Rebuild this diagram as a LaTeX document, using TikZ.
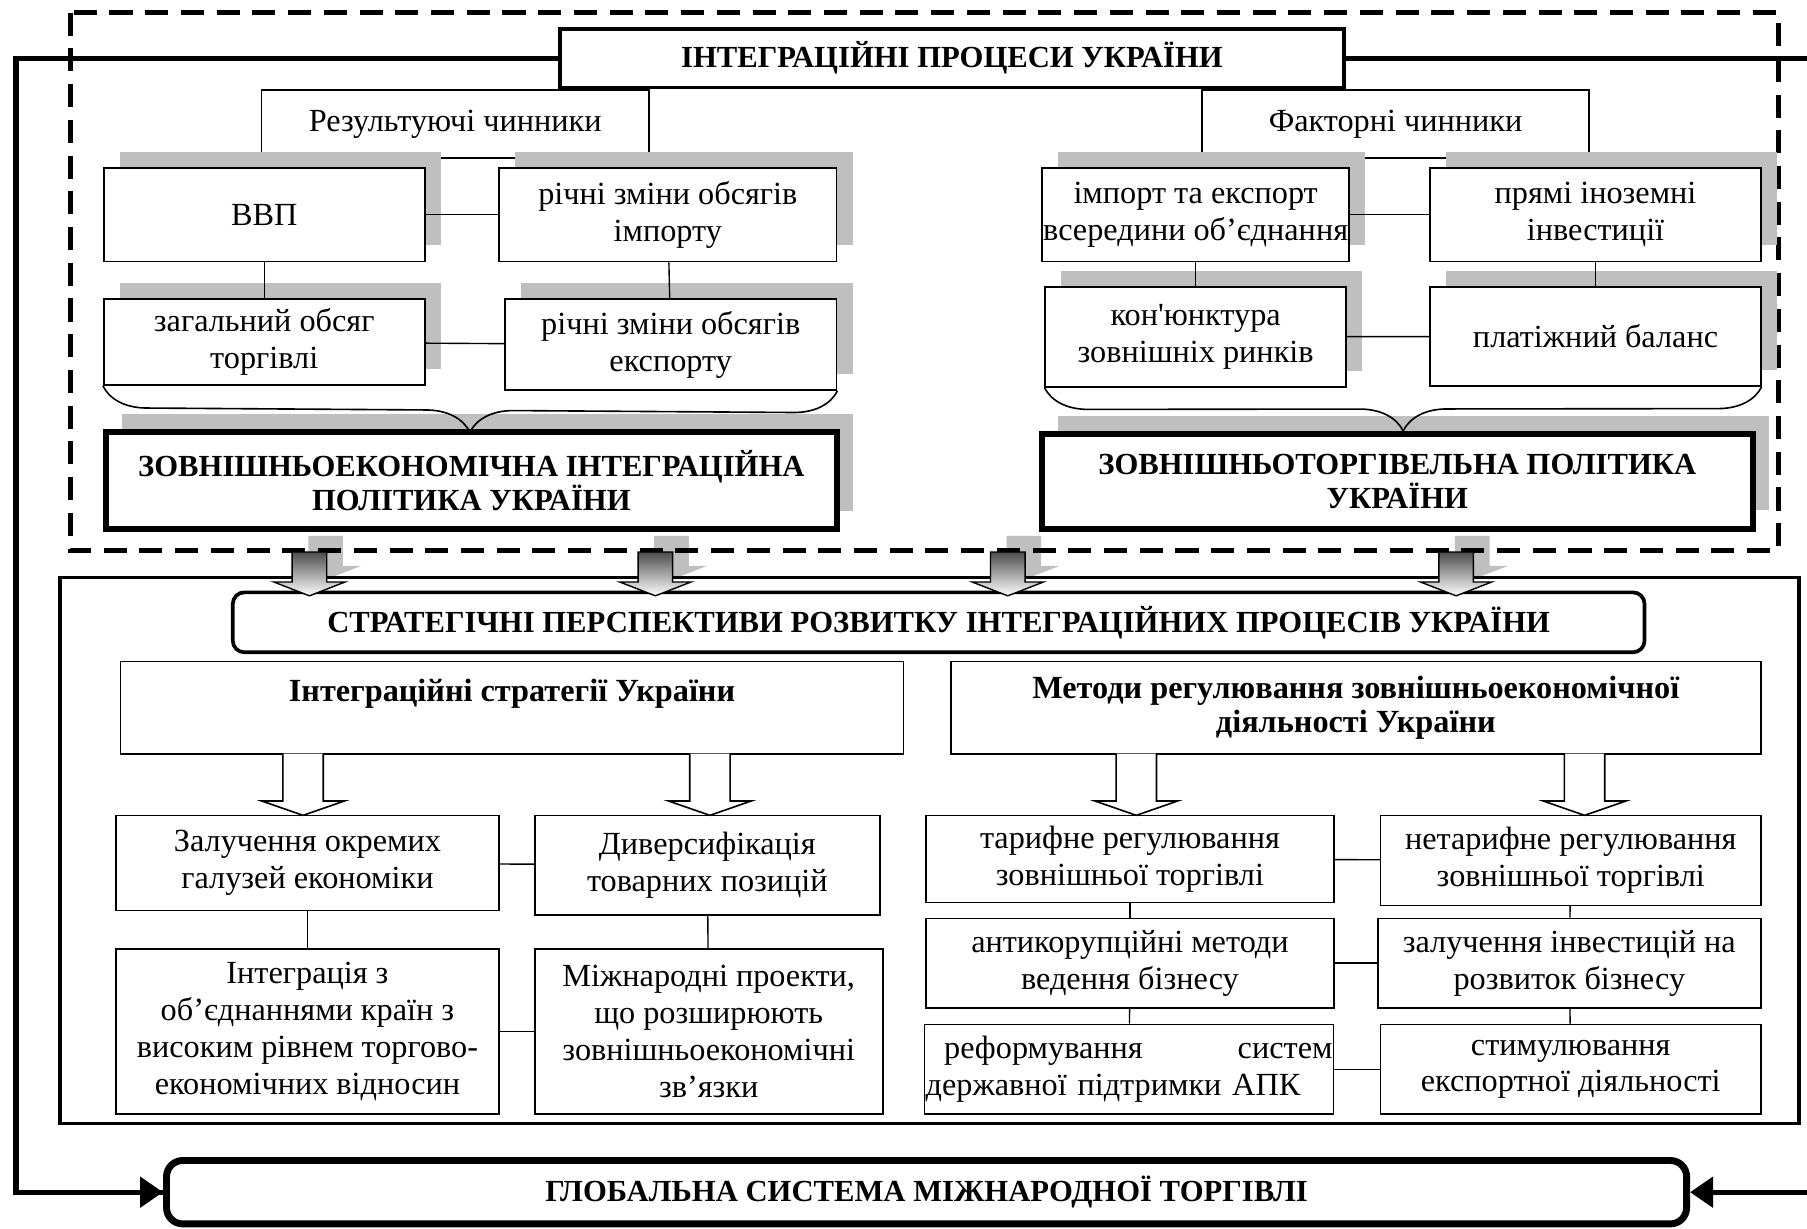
\documentclass[tikz,border=0pt]{standalone}
\usepackage{fontspec}
\setmainfont{Liberation Serif}
\usetikzlibrary{shadows, decorations.pathreplacing, arrows.meta}

\begin{document}
\begin{tikzpicture}[x=0.5pt, y=-0.5pt, font=\fontsize{14}{16}\selectfont]
    \tikzstyle{cell} = [rectangle, draw, line width=0.7pt, fill=white, align=center, inner sep=0.5pt]
    \tikzstyle{shcell} = [cell, drop shadow={shadow xshift=7pt, shadow yshift=7pt, fill=black!25, opacity=1}]
    \tikzstyle{policy} = [rectangle, draw, line width=2.6pt, fill=white, align=center, inner sep=1pt, font=\bfseries\fontsize{13.3}{15}\selectfont, drop shadow={shadow xshift=7pt, shadow yshift=8pt, fill=black!25, opacity=1}]
    \tikzstyle{headline} = [rectangle, draw, line width=1.6pt, fill=white, align=center, inner sep=1pt, font=\bfseries\fontsize{13.3}{15}\selectfont]
    \tikzstyle{link} = [line width=0.6pt]
    \tikzstyle{brace} = [decorate, decoration={brace, amplitude=19pt, mirror}, line width=0.7pt]
    \tikzstyle{outerline} = [line width=2.3pt]
    \tikzstyle{dashframe} = [line width=2.2pt, dash pattern=on 10pt off 5.5pt]
    \tikzstyle{flowarrow} = [draw, line width=0.6pt, top color=black!70, bottom color=white]
    \tikzstyle{flowshadow} = [fill=black!25]
    \tikzstyle{openarrow} = [draw, line width=0.7pt, fill=white]

    \useasboundingbox (0,0) rectangle (1568,1066);

    % Block arrow shadows
    \fill [flowshadow, shift={(282.5,-14)}] (-15,479) -- (15,479) -- (15,505) -- (31,505) -- (0,517) -- (-31,505) -- (-15,505) -- cycle;
    \fill [flowshadow, shift={(582.7,-14)}] (-15,479) -- (15,479) -- (15,505) -- (31,505) -- (0,517) -- (-31,505) -- (-15,505) -- cycle;
    \fill [flowshadow, shift={(888.5,-14)}] (-15,479) -- (15,479) -- (15,505) -- (31,505) -- (0,517) -- (-31,505) -- (-15,505) -- cycle;
    \fill [flowshadow, shift={(1277.5,-14)}] (-15,479) -- (15,479) -- (15,505) -- (31,505) -- (0,517) -- (-31,505) -- (-15,505) -- cycle;

    % Frames
    \draw [dashframe] (61,11) rectangle (1543,478);
    \draw [line width=1.6pt] (52,501) rectangle (1561,975);

    % Title and outer loop
    \node [headline, minimum width=340pt, minimum height=25.5pt] (title) at (826,50.5) {ІНТЕГРАЦІЙНІ ПРОЦЕСИ УКРАЇНИ};
    \node [rectangle, draw, rounded corners=7pt, line width=3pt, fill=white, inner sep=1pt, font=\bfseries\fontsize{13.3}{15}\selectfont, minimum width=659.5pt, minimum height=27.5pt] (global_sys) at (804,1034.5) {ГЛОБАЛЬНА СИСТЕМА МІЖНАРОДНОЇ ТОРГІВЛІ};
    \coordinate (left_edge) at (14,0);
    \coordinate (right_edge) at (1568,0);

    % Resulting factors
    \node [cell, minimum width=168pt, minimum height=29.5pt] (res_factors) at (395,107.5) {Результуючі чинники};
    \node [shcell, minimum width=139.3pt, minimum height=40.7pt] (gdp) at (229.3,186.3) {ВВП};
    \node [shcell, minimum width=146.5pt, minimum height=40.7pt] (imp_change) at (579.5,186.3) {річні зміни обсягів\\імпорту};
    \node [shcell, minimum width=139.3pt, minimum height=37.2pt] (trade_vol) at (229.3,296.9) {загальний обсяг\\торгівлі};
    \node [shcell, minimum width=144pt, minimum height=39.4pt] (exp_change) at (582,299.1) {річні зміни обсягів\\експорту};
    \node [policy, minimum width=317pt, minimum height=42pt] (econ_policy) at (409,417) {ЗОВНІШНЬОЕКОНОМІЧНА ІНТЕГРАЦІЙНА\\ПОЛІТИКА УКРАЇНИ};

    % Factor indicators
    \node [cell, minimum width=168pt, minimum height=29.5pt] (fact_factors) at (1211,107.5) {Факторні чинники};
    \node [shcell, minimum width=130.5pt, minimum height=40.7pt] (intra_trade) at (1037.5,186.3) {імпорт та експорт\\всередини об’єднання};
    \node [shcell, minimum width=143.5pt, minimum height=40.7pt] (fdi) at (1384.5,186.3) {прямі іноземні\\інвестиції};
    \node [shcell, minimum width=130.5pt, minimum height=43.3pt] (market) at (1037.5,292.3) {кон\textquotesingle юнктура\\зовнішніх ринків};
    \node [shcell, minimum width=143.5pt, minimum height=42.9pt] (balance) at (1384.5,291.9) {платіжний баланс};
    \node [policy, minimum width=308.5pt, minimum height=41pt] (trade_policy) at (1212.5,417.7) {ЗОВНІШНЬОТОРГІВЕЛЬНА ПОЛІТИКА\\УКРАЇНИ};

    % Strategic prospects
    \node [headline, rounded corners=5pt, minimum width=612.5pt, minimum height=26pt] (prospects) at (814.5,540) {СТРАТЕГІЧНІ ПЕРСПЕКТИВИ РОЗВИТКУ ІНТЕГРАЦІЙНИХ ПРОЦЕСІВ УКРАЇНИ};
    \node [cell, font=\bfseries\fontsize{14}{15}\selectfont, minimum width=339.7pt, minimum height=40pt] (int_strat) at (444.3,614) {Інтеграційні стратегії України\\~};
    \node [cell, font=\bfseries\fontsize{14}{15}\selectfont, minimum width=351.5pt, minimum height=40pt] (reg_methods) at (1176.5,614) {Методи регулювання зовнішньоекономічної\\діяльності України};

    % Integration strategies
    \node [cell, minimum width=166.2pt, minimum height=41.2pt] (branches) at (266.8,748.8) {Залучення окремих\\галузей економіки};
    \node [cell, minimum width=149.8pt, minimum height=43pt] (diversif) at (613.8,750.7) {Диверсифікація\\товарних позицій};
    \node [cell, minimum width=166.2pt, minimum height=71.6pt] (integration) at (266.8,895.1) {Інтеграція з\\об’єднаннями країн з\\високим рівнем торгово-\\економічних відносин};
    \node [cell, minimum width=151pt, minimum height=71.6pt] (projects) at (615,895.1) {Міжнародні проекти,\\що розширюють\\зовнішньоекономічні\\зв’язки};

    % Regulation methods
    \node [cell, minimum width=177pt, minimum height=37.7pt] (tariff) at (980.5,745.3) {тарифне регулювання\\зовнішньої торгівлі};
    \node [cell, minimum width=165pt, minimum height=39pt] (nontariff) at (1363,746.6) {нетарифне регулювання\\зовнішньої торгівлі};
    \node [cell, minimum width=177pt, minimum height=38.75pt] (anticorr) at (980.5,835.75) {антикорупційні методи\\ведення бізнесу};
    \node [cell, minimum width=166.25pt, minimum height=38.75pt] (invest) at (1361.75,835.75) {залучення інвестицій на\\розвиток бізнесу};
    \node [cell, align=left, text width=176.5pt, minimum height=38.85pt] (reform) at (979.75,927.85) {\hspace*{8pt}реформування\hfill систем\\державної підтримки АПК};
    \node [cell, minimum width=165pt, minimum height=38.85pt] (export_stim) at (1363,927.85) {стимулювання\\експортної діяльності};

    % Connections
    \draw [link] (gdp) -- (imp_change);
    \draw [link] (gdp) -- (trade_vol);
    \draw [link] (imp_change) -- (exp_change);
    \draw [link] (trade_vol) -- (exp_change);
    \draw [link] (intra_trade) -- (fdi);
    \draw [link] (intra_trade) -- (market);
    \draw [link] (fdi) -- (balance);
    \draw [link] (market) -- (balance);

    \draw [link] (branches) -- (diversif);
    \draw [link] (branches) -- (integration);
    \draw [link] (diversif) -- (projects);
    \draw [link] (integration) -- (projects);

    \draw [link] (tariff) -- (nontariff);
    \draw [link] (tariff) -- (anticorr);
    \draw [link] (nontariff) -- (invest);
    \draw [link] (anticorr) -- (invest);
    \draw [link] (anticorr) -- (reform);
    \draw [link] (invest) -- (export_stim);
    \draw [link] (reform) -- (export_stim);

    % Braces
    \draw [brace] (trade_vol.south west) -- (exp_change.south east);
    \draw [brace] (market.south west) -- (balance.south east);

    % Outer loop
    \draw [outerline] (title.west) -- (title.west -| left_edge) |- (global_sys.west);
    \draw [outerline, -{Triangle[length=10pt, width=13pt]}] (title.west -| left_edge) |- (global_sys.west);
    \draw [outerline] (title.east) -- (title.east -| right_edge);
    \draw [outerline, -{Triangle[length=10pt, width=13pt]}] (global_sys.east -| right_edge) -- (global_sys.east);

    % Block arrows
    \path [flowarrow, shift={(268.5,0)}] (-15,479) -- (15,479) -- (15,505) -- (31,505) -- (0,517) -- (-31,505) -- (-15,505) -- cycle;
    \path [flowarrow, shift={(568.7,0)}] (-15,479) -- (15,479) -- (15,505) -- (31,505) -- (0,517) -- (-31,505) -- (-15,505) -- cycle;
    \path [flowarrow, shift={(874.5,0)}] (-15,479) -- (15,479) -- (15,505) -- (31,505) -- (0,517) -- (-31,505) -- (-15,505) -- cycle;
    \path [flowarrow, shift={(1263.5,0)}] (-15,479) -- (15,479) -- (15,505) -- (31,505) -- (0,517) -- (-31,505) -- (-15,505) -- cycle;

    % Hollow arrows
    \path [openarrow, shift={(263,0)}] (-17.5,654) -- (-17.5,695) -- (-36,695) -- (0,707.5) -- (36,695) -- (17.5,695) -- (17.5,654);
    \path [openarrow, shift={(616,0)}] (-17.5,654) -- (-17.5,695) -- (-36,695) -- (0,707.5) -- (36,695) -- (17.5,695) -- (17.5,654);
    \path [openarrow, shift={(986,0)}] (-17.5,654) -- (-17.5,695) -- (-36,695) -- (0,707.5) -- (36,695) -- (17.5,695) -- (17.5,654);
    \path [openarrow, shift={(1375,0)}] (-17.5,654) -- (-17.5,695) -- (-36,695) -- (0,707.5) -- (36,695) -- (17.5,695) -- (17.5,654);
\end{tikzpicture}
\end{document}
